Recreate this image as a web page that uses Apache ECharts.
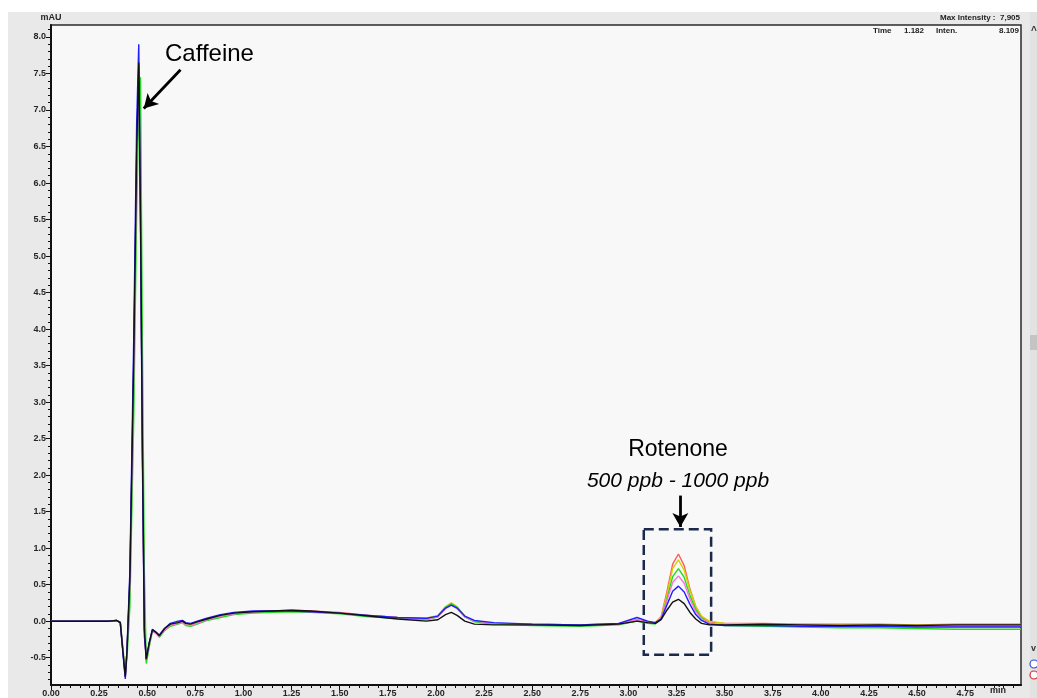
<!DOCTYPE html>
<html>
<head>
<meta charset="utf-8">
<title>Chromatogram</title>
<script src="https://cdn.jsdelivr.net/npm/echarts@6.0.0/dist/echarts.min.js"></script>
<style>
    html, body { margin: 0; padding: 0; background: #ffffff; }
    #chart { width: 1037px; height: 698px; }
</style>
</head>
<body>
<div id="chart"></div>
<script>
// retention time (min)
var times = [0.00, 0.10, 0.20, 0.30, 0.34, 0.36, 0.375, 0.386, 0.395, 0.41,
    0.43, 0.445, 0.456, 0.465, 0.475, 0.485, 0.495, 0.51, 0.527, 0.545,
    0.563, 0.59, 0.62, 0.66, 0.683, 0.70, 0.725, 0.76, 0.81, 0.88,
    0.95, 1.05, 1.15, 1.25, 1.35, 1.50, 1.65, 1.80, 1.95, 2.01,
    2.05, 2.08, 2.11, 2.15, 2.20, 2.30, 2.50, 2.75, 2.95, 3.045,
    3.10, 3.14, 3.17, 3.20, 3.23, 3.26, 3.29, 3.32, 3.35, 3.38,
    3.42, 3.50, 3.70, 3.90, 4.10, 4.30, 4.50, 4.70, 4.90, 5.04];

// intensity (mAU) for each injection
var redRun = [0, 0, 0, 0, 0.01, -0.02, -0.45, -0.75, -0.40, 0.55,
    3.5, 6.3, 7.6, 5.6, 2.4, -0.1, -0.54, -0.32, -0.13, -0.16,
    -0.21, -0.12, -0.06, -0.03, -0.01, -0.05, -0.06, -0.03, 0.02, 0.07,
    0.10, 0.13, 0.14, 0.15, 0.14, 0.12, 0.08, 0.05, 0.03, 0.06,
    0.18, 0.23, 0.18, 0.06, 0.00, -0.03, -0.04, -0.05, -0.03, 0.02,
    -0.01, -0.02, 0.06, 0.40, 0.78, 0.92, 0.76, 0.44, 0.20, 0.06,
    -0.01, -0.03, -0.03, -0.04, -0.04, -0.04, -0.05, -0.04, -0.04, -0.04];
var yellowRun = [0, 0, 0, 0, 0.01, -0.02, -0.44, -0.74, -0.42, 0.45,
    3.3, 6.2, 7.5, 5.7, 2.6, 0.0, -0.55, -0.33, -0.12, -0.16,
    -0.20, -0.11, -0.05, -0.02, 0.00, -0.04, -0.05, -0.02, 0.02, 0.07,
    0.10, 0.12, 0.13, 0.14, 0.13, 0.11, 0.08, 0.05, 0.04, 0.08,
    0.20, 0.25, 0.20, 0.07, 0.00, -0.03, -0.04, -0.05, -0.04, 0.01,
    -0.02, -0.02, 0.05, 0.36, 0.72, 0.84, 0.70, 0.42, 0.20, 0.07,
    0.00, -0.03, -0.04, -0.04, -0.05, -0.05, -0.05, -0.06, -0.06, -0.06];
var greenRun = [0, 0, 0, 0, 0.01, -0.01, -0.40, -0.72, -0.50, 0.20,
    2.8, 5.6, 7.0, 7.45, 3.8, 0.7, -0.58, -0.36, -0.14, -0.16,
    -0.22, -0.13, -0.07, -0.04, -0.02, -0.06, -0.07, -0.04, 0.01, 0.05,
    0.09, 0.11, 0.12, 0.13, 0.12, 0.10, 0.06, 0.04, 0.02, 0.06,
    0.19, 0.24, 0.19, 0.06, -0.01, -0.04, -0.06, -0.07, -0.05, 0.00,
    -0.03, -0.04, 0.03, 0.30, 0.61, 0.72, 0.60, 0.35, 0.16, 0.04,
    -0.03, -0.06, -0.07, -0.08, -0.09, -0.09, -0.10, -0.11, -0.11, -0.11];
var pinkRun = [0, 0, 0, 0, 0.01, -0.02, -0.45, -0.76, -0.40, 0.50,
    3.4, 6.3, 7.55, 5.5, 2.3, -0.1, -0.53, -0.32, -0.13, -0.17,
    -0.21, -0.12, -0.06, -0.03, -0.01, -0.05, -0.06, -0.03, 0.02, 0.07,
    0.10, 0.13, 0.14, 0.14, 0.13, 0.11, 0.08, 0.05, 0.03, 0.06,
    0.17, 0.22, 0.17, 0.06, 0.00, -0.03, -0.04, -0.05, -0.04, 0.02,
    -0.02, -0.03, 0.04, 0.28, 0.53, 0.62, 0.52, 0.30, 0.13, 0.03,
    -0.03, -0.05, -0.05, -0.05, -0.06, -0.06, -0.07, -0.07, -0.07, -0.07];
var blueRun = [0, 0, 0, 0, 0.01, -0.02, -0.48, -0.79, -0.38, 0.70,
    3.9, 6.8, 7.9, 5.4, 2.2, -0.2, -0.52, -0.30, -0.11, -0.15,
    -0.19, -0.10, -0.03, 0.00, 0.01, -0.02, -0.03, 0.00, 0.04, 0.09,
    0.12, 0.14, 0.14, 0.14, 0.13, 0.11, 0.08, 0.05, 0.04, 0.07,
    0.18, 0.22, 0.18, 0.07, 0.01, -0.02, -0.04, -0.05, -0.03, 0.05,
    0.00, -0.02, 0.03, 0.22, 0.41, 0.48, 0.40, 0.23, 0.09, 0.01,
    -0.04, -0.06, -0.06, -0.07, -0.07, -0.07, -0.08, -0.08, -0.08, -0.08];
var blackRun = [0, 0, 0, 0, 0.01, -0.02, -0.45, -0.76, -0.40, 0.60,
    3.6, 6.4, 7.65, 5.6, 2.4, -0.1, -0.52, -0.30, -0.12, -0.15,
    -0.20, -0.10, -0.04, -0.02, 0.00, -0.03, -0.04, -0.01, 0.03, 0.08,
    0.11, 0.13, 0.14, 0.15, 0.14, 0.11, 0.07, 0.03, 0.00, 0.02,
    0.09, 0.12, 0.08, 0.00, -0.04, -0.05, -0.05, -0.06, -0.04, 0.00,
    -0.02, -0.03, 0.02, 0.15, 0.26, 0.30, 0.24, 0.12, 0.03, -0.03,
    -0.05, -0.05, -0.04, -0.05, -0.06, -0.05, -0.06, -0.05, -0.05, -0.05];

var runNames = ['Run 1', 'Run 2', 'Run 3', 'Run 4', 'Run 5', 'Run 6'];
var runs = [redRun, yellowRun, greenRun, pinkRun, blueRun, blackRun];
var runColors = ['#ff5c5c', '#d2d200', '#1fdc1f', '#ff73d9', '#1f1fff', '#111111'];

// axis ticks
var xTicks = [0.00, 0.25, 0.50, 0.75, 1.00, 1.25, 1.50, 1.75, 2.00, 2.25, 2.50,
    2.75, 3.00, 3.25, 3.50, 3.75, 4.00, 4.25, 4.50, 4.75];
var yTicks = [-0.5, 0.0, 0.5, 1.0, 1.5, 2.0, 2.5, 3.0, 3.5, 4.0, 4.5, 5.0,
    5.5, 6.0, 6.5, 7.0, 7.5, 8.0];

var xMin = 0, xMax = 5.04;
var yMin = -0.874, yMax = 8.164;

// minor ticks, 5 per major step
var xMinor = [];
for (var i = 0; i <= 100; i++) { xMinor.push(+(i * 0.05).toFixed(2)); }
var yMinor = [];
for (var j = -8; j <= 81; j++) { yMinor.push(+(j * 0.1).toFixed(1)); }

var labelStyle = { color: '#262626', fontSize: 9, fontWeight: 'bold', fontFamily: 'Liberation Sans' };

var series = [];
for (var k = 0; k < runs.length; k++) {
    var pts = [];
    for (var n = 0; n < times.length; n++) {
        pts.push([times[n], runs[k][n]]);
    }
    series.push({
        name: runNames[k],
        type: 'line',
        data: pts,
        showSymbol: false,
        silent: true,
        lineStyle: { color: runColors[k], width: 1.4 },
        itemStyle: { color: runColors[k] },
        z: 3 + k
    });
}

// annotations sit on the last series
series[series.length - 1].markLine = {
    silent: true,
    symbol: ['none', 'arrow'],
    symbolSize: [12, 14],
    label: { show: false },
    lineStyle: { color: '#000', width: 2.8, type: 'solid' },
    data: [
        [{ coord: [0.673, 7.55] }, { coord: [0.482, 7.02] }],
        [{ coord: [3.27, 1.72] }, { coord: [3.27, 1.29] }]
    ]
};
series[series.length - 1].markArea = {
    silent: true,
    itemStyle: { color: 'rgba(0,0,0,0)', borderColor: '#1b2a4a', borderWidth: 2.5, borderType: [10, 5] },
    label: { show: false },
    data: [[{ coord: [3.08, 1.26] }, { coord: [3.43, -0.46] }]]
};

var option = {
    animation: false,
    backgroundColor: '#e9e9e9',
    grid: {
        left: 51, top: 25, right: 16, bottom: 11,
        show: true,
        backgroundColor: '#f8f8f8',
        borderColor: '#2a2a2a',
        borderWidth: 1.5
    },
    xAxis: [{
        type: 'value', min: xMin, max: xMax, position: 'bottom',
        splitLine: { show: false },
        axisLine: { onZero: false, lineStyle: { color: '#111', width: 2 } },
        axisTick: { customValues: xTicks, length: 5, lineStyle: { color: '#111' } },
        axisLabel: Object.assign({ customValues: xTicks, margin: 4, formatter: function (v) { return v.toFixed(2); } }, labelStyle)
    }, {
        type: 'value', min: xMin, max: xMax, position: 'bottom',
        splitLine: { show: false },
        axisLine: { show: false, onZero: false },
        axisTick: { customValues: xMinor, length: 3, lineStyle: { color: '#111' } },
        axisLabel: { show: false }
    }],
    yAxis: [{
        type: 'value', min: yMin, max: yMax, position: 'left',
        name: 'mAU', nameLocation: 'end', nameGap: 3,
        nameTextStyle: Object.assign({ align: 'center' }, labelStyle),
        splitLine: { show: false },
        axisLine: { onZero: false, lineStyle: { color: '#111', width: 2 } },
        axisTick: { customValues: yTicks, length: 5, lineStyle: { color: '#111' } },
        axisLabel: Object.assign({ customValues: yTicks, margin: 5, formatter: function (v) { return v.toFixed(1); } }, labelStyle)
    }, {
        type: 'value', min: yMin, max: yMax, position: 'left',
        splitLine: { show: false },
        axisLine: { show: false, onZero: false },
        axisTick: { customValues: yMinor, length: 3, lineStyle: { color: '#111' } },
        axisLabel: { show: false }
    }],
    graphic: [
        { type: 'rect', left: 0, top: 0, shape: { width: 1037, height: 12 }, style: { fill: '#ffffff' }, z: -1 },
        { type: 'rect', left: 0, top: 0, shape: { width: 8, height: 698 }, style: { fill: '#ffffff' }, z: -1 },
        { type: 'rect', left: 1030, top: 12, shape: { width: 7, height: 686 }, style: { fill: '#e2e2e2' }, z: -1 },
        { type: 'rect', left: 1030, top: 335, shape: { width: 7, height: 15 }, style: { fill: '#c4c4c4' } },
        { type: 'text', left: 1031, top: 26, style: { text: '^', fill: '#333', font: 'bold 10px Liberation Sans' } },
        { type: 'text', left: 1031, top: 644, style: { text: 'v', fill: '#333', font: 'bold 9px Liberation Sans' } },
        { type: 'circle', shape: { cx: 1034, cy: 664, r: 4 }, style: { fill: '#ffffff', stroke: '#2b4fd6', lineWidth: 1.2 } },
        { type: 'circle', shape: { cx: 1034, cy: 675, r: 4 }, style: { fill: '#ffffff', stroke: '#d62b2b', lineWidth: 1.2 } },
        { type: 'text', left: 990, top: 686, style: { text: 'min', fill: '#262626', font: 'bold 9px Liberation Sans' } },
        { type: 'text', right: 17, top: 14, style: { text: 'Max Intensity :  7,905', fill: '#222', font: 'bold 8px Liberation Sans' } },
        { type: 'text', left: 873, top: 27, style: { text: 'Time', fill: '#222', font: 'bold 8px Liberation Sans' } },
        { type: 'text', left: 904, top: 27, style: { text: '1.182', fill: '#222', font: 'bold 8px Liberation Sans' } },
        { type: 'text', left: 936, top: 27, style: { text: 'Inten.', fill: '#222', font: 'bold 8px Liberation Sans' } },
        { type: 'text', right: 18, top: 27, style: { text: '8.109', fill: '#222', font: 'bold 8px Liberation Sans' } },
        { type: 'text', left: 165, top: 42, style: { text: 'Caffeine', fill: '#000', font: '24px Liberation Sans' } },
        { type: 'text', x: 678, y: 438, style: { text: 'Rotenone', fill: '#000', font: '23px Liberation Sans', textAlign: 'center' } },
        { type: 'text', x: 678, y: 471, style: { text: '500 ppb - 1000 ppb', fill: '#000', font: 'italic 21px Liberation Sans', textAlign: 'center' } }
    ],
    series: series
};

var chart = echarts.init(document.getElementById('chart'));
chart.setOption(option);
</script>
</body>
</html>
